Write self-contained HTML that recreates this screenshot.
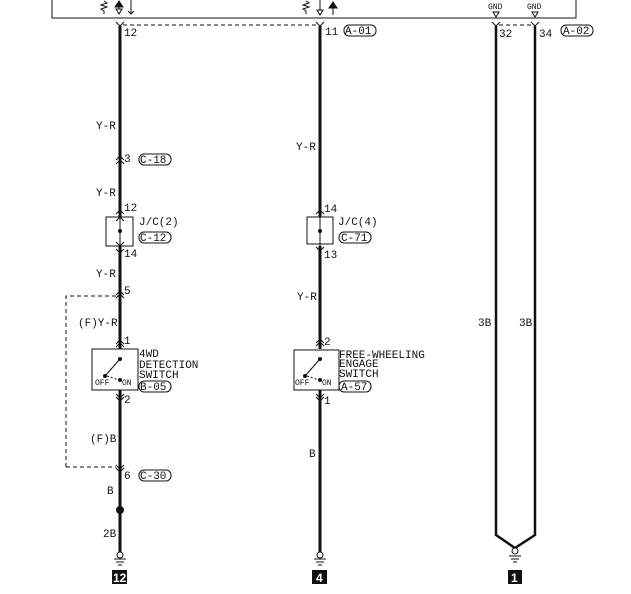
<!DOCTYPE html>
<html><head><meta charset="utf-8"><style>
html,body{margin:0;padding:0;background:#fff;}
svg{display:block;}
text{font-family:"Liberation Mono","DejaVu Sans Mono",monospace;font-size:11px;fill:#111;}
.s{font-size:8px;}
.b{font-family:"Liberation Sans",sans-serif;font-weight:bold;font-size:12px;fill:#fff;}
</style></head><body>
<svg width="631" height="594" viewBox="0 0 631 594" xmlns="http://www.w3.org/2000/svg">
<g fill="none" stroke="#111">
<!-- ECU box -->
<path d="M52 0 V18 H576 V0" stroke-width="1"/>
<!-- top symbols left -->
<path d="M104 1 l3 2 -6 2 6 2 -6 2 3 2 v3" stroke-width="1"/>
<path d="M119 3 V14" /><polygon points="116,9 122,9 119,14" fill="#fff"/>
<polygon points="115,7 123,7 119,1" fill="#111"/>
<path d="M131 0 V14 M128 11 l3 3 3 -3"/>
<!-- top symbols middle -->
<path d="M306 1 l3 2 -6 2 6 2 -6 2 3 2 v3"/>
<path d="M320 0 V10"/><polygon points="317,10 323,10 320,15" fill="#fff"/>
<path d="M333 2 V15"/><polygon points="329,8 337,8 333,2" fill="#111"/>
<polygon points="493,12 499,12 496,17" fill="#fff"/>
<polygon points="532,12 538,12 535,17" fill="#fff"/>
<!-- dashed top -->
<path d="M123 25 H318 M499 25 H533" stroke-dasharray="4,3"/>
<!-- connector Ys -->
<path d="M116 22 l4 4 4-4 M316 22 l4 4 4-4 M492 22 l4 4 4-4 M531 22 l4 4 4-4"/>
<!-- left wire -->
<path d="M120 26 V217 M120 246 V349 M120 390 V552" stroke-width="3"/>
<path d="M120 217 V246" stroke-width="1"/>
<rect x="106" y="217" width="27" height="29"/>
<path d="M116 160 l4-4 4 4 M116 164 l4-4 4 4 M116 214 l4-4 4 4 M116 221 l4-4 4 4 M116 242 l4 4 4-4 M116 249 l4 4 4-4"/>
<path d="M116 295 l4-4 4 4 M116 298 l4-4 4 4 M116 344 l4-4 4 4 M116 347 l4-4 4 4 M116 394 l4 4 4-4 M116 397 l4 4 4-4 M116 465 l4 4 4-4 M116 468 l4 4 4-4"/>
<rect x="92" y="349" width="46" height="41"/>
<path d="M120 359 L105 376"/>
<path d="M107 376 L119 380" stroke-dasharray="2,2"/>
<path d="M66 467 H116 M66 467 V296 H116" stroke-dasharray="4,3"/>
<!-- middle wire -->
<path d="M320 26 V217 M320 246 V349 M320 390 V552" stroke-width="3"/>
<path d="M320 217 V246" stroke-width="1"/>
<rect x="307" y="217" width="26" height="27"/>
<path d="M316 214 l4-4 4 4 M316 247 l4 4 4-4 M316 343 l4-4 4 4 M316 346 l4-4 4 4 M316 394 l4 4 4-4 M316 397 l4 4 4-4"/>
<rect x="294" y="350" width="45" height="40"/>
<path d="M320 359 L305 376"/>
<path d="M307 376 L319 380" stroke-dasharray="2,2"/>
<!-- right wires -->
<path d="M496 26 V535 L515 548 L535 535 V26" stroke-width="2.5"/>
<!-- grounds -->
<circle cx="120" cy="555" r="3" fill="#fff"/><path d="M114 559 H126 M116 562 H124 M118 565 H122"/>
<circle cx="320" cy="555" r="3" fill="#fff"/><path d="M314 559 H326 M316 562 H324 M318 565 H322"/>
<circle cx="515" cy="551" r="3" fill="#fff"/><path d="M509 556 H521 M511 559 H519 M513 562 H517"/>
</g>
<g fill="#111">
<circle cx="120" cy="231" r="2"/><circle cx="320" cy="231" r="2"/>
<circle cx="120" cy="359" r="2"/><circle cx="105" cy="376" r="2"/><circle cx="120" cy="380" r="2"/>
<circle cx="320" cy="359" r="2"/><circle cx="305" cy="376" r="2"/><circle cx="320" cy="380" r="2"/>
<circle cx="120" cy="510" r="4"/>
<rect x="112" y="570" width="15" height="14"/><rect x="312" y="570" width="15" height="14"/><rect x="508" y="570" width="14" height="14"/>
</g>
<text class="b" x="113" y="582">12</text><text class="b" x="316" y="582">4</text><text class="b" x="511" y="582">1</text>
<text class="s" x="488" y="9">GND</text><text class="s" x="527" y="9">GND</text>
<text x="124" y="36">12</text><text x="325" y="35">11</text>
<text x="345" y="34">A-01</text><rect x="344" y="25" width="32" height="11" rx="5" fill="none" stroke="#111"/>
<text x="499" y="37">32</text><text x="539" y="37">34</text>
<text x="563" y="34">A-02</text><rect x="561" y="25" width="32" height="11" rx="5" fill="none" stroke="#111"/>
<text x="96" y="129">Y-R</text><text x="296" y="150">Y-R</text>
<text x="124" y="162">3</text><text x="140" y="163">C-18</text><rect x="139" y="154" width="32" height="11" rx="5" fill="none" stroke="#111"/>
<text x="96" y="196">Y-R</text>
<text x="124" y="211">12</text><text x="139" y="225">J/C(2)</text>
<text x="140" y="241">C-12</text><rect x="139" y="232" width="32" height="11" rx="5" fill="none" stroke="#111"/>
<text x="124" y="257">14</text>
<text x="96" y="277">Y-R</text>
<text x="124" y="294">5</text>
<text x="78" y="326">(F)Y-R</text>
<text x="124" y="344">1</text>
<text x="139" y="357">4WD</text><text x="139" y="368">DETECTION</text><text x="139" y="378">SWITCH</text>
<text x="140" y="390">B-05</text><rect x="139" y="381" width="32" height="11" rx="5" fill="none" stroke="#111"/>
<text class="s" x="95" y="385">OFF</text><text class="s" x="122" y="385">ON</text>
<text x="124" y="403">2</text>
<text x="90" y="442">(F)B</text>
<text x="124" y="479">6</text><text x="140" y="479">C-30</text><rect x="139" y="470" width="32" height="11" rx="5" fill="none" stroke="#111"/>
<text x="107" y="494">B</text><text x="103" y="537">2B</text>
<text x="324" y="212">14</text><text x="338" y="225">J/C(4)</text>
<text x="341" y="241">C-71</text><rect x="339" y="232" width="32" height="11" rx="5" fill="none" stroke="#111"/>
<text x="324" y="258">13</text><text x="297" y="300">Y-R</text>
<text x="324" y="345">2</text>
<text x="339" y="358">FREE-WHEELING</text><text x="339" y="367">ENGAGE</text><text x="339" y="377">SWITCH</text>
<text x="341" y="390">A-57</text><rect x="339" y="381" width="32" height="11" rx="5" fill="none" stroke="#111"/>
<text class="s" x="295" y="385">OFF</text><text class="s" x="322" y="385">ON</text>
<text x="324" y="404">1</text><text x="309" y="457">B</text>
<text x="478" y="326">3B</text><text x="519" y="326">3B</text>
</svg>
</body></html>
